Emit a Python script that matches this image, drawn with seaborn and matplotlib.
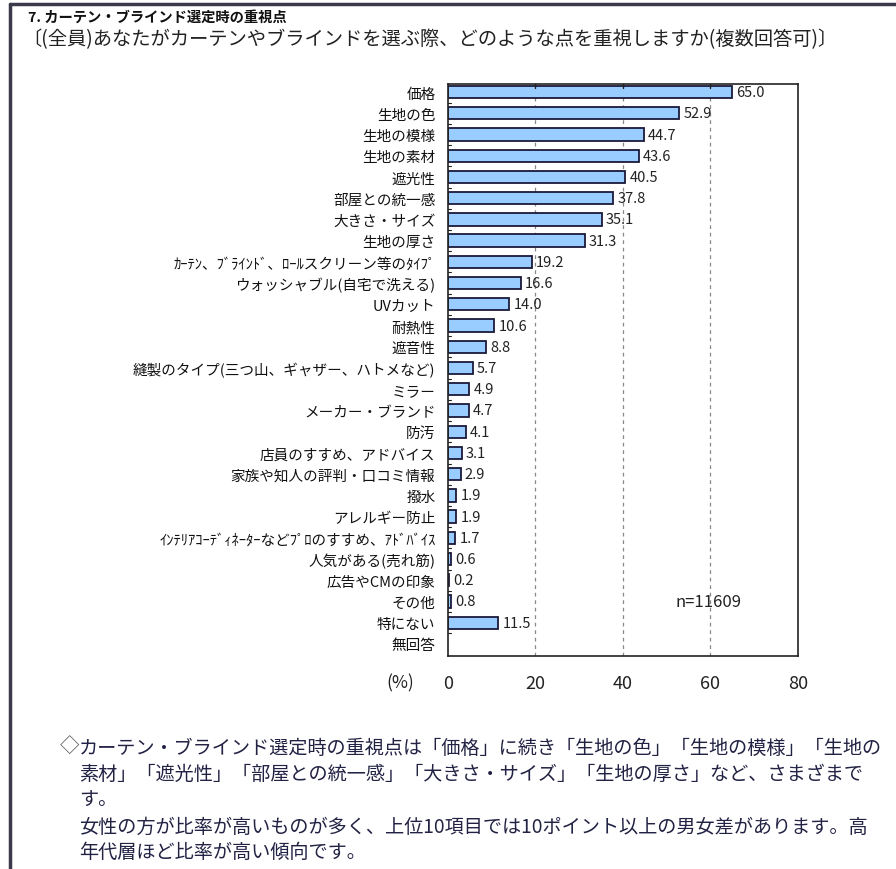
import numpy as np
import pandas as pd
import matplotlib
matplotlib.use("Agg")
import matplotlib.pyplot as plt
import seaborn as sns
from matplotlib.lines import Line2D

categories = [
    "価格", "生地の色", "生地の模様", "生地の素材", "遮光性", "部屋との統一感",
    "大きさ・サイズ", "生地の厚さ", "ｶｰﾃﾝ、ﾌﾞﾗｲﾝﾄﾞ、ﾛｰﾙスクリーン等のﾀｲﾌﾟ",
    "ウォッシャブル(自宅で洗える)", "UVカット", "耐熱性", "遮音性",
    "縫製のタイプ(三つ山、ギャザー、ハトメなど)", "ミラー", "メーカー・ブランド",
    "防汚", "店員のすすめ、アドバイス", "家族や知人の評判・口コミ情報", "撥水",
    "アレルギー防止", "ｲﾝﾃﾘｱｺｰﾃﾞｨﾈｰﾀｰなどﾌﾟﾛのすすめ、ｱﾄﾞﾊﾞｲｽ",
    "人気がある(売れ筋)", "広告やCMの印象", "その他", "特にない", "無回答",
]
values = [65.0, 52.9, 44.7, 43.6, 40.5, 37.8, 35.1, 31.3, 19.2, 16.6, 14.0,
          10.6, 8.8, 5.7, 4.9, 4.7, 4.1, 3.1, 2.9, 1.9, 1.9, 1.7, 0.6, 0.2,
          0.8, 11.5, np.nan]
x_ticks = [0, 20, 40, 60, 80]

title = "7. カーテン・ブラインド選定時の重視点"
subtitle = "〔(全員)あなたがカーテンやブラインドを選ぶ際、どのような点を重視しますか(複数回答可)〕"
note_n = "n=11609"
footer_lines = [
    "カーテン・ブラインド選定時の重視点は「価格」に続き「生地の色」「生地の模様」「生地の",
    "素材」「遮光性」「部屋との統一感」「大きさ・サイズ」「生地の厚さ」など、さまざまで",
    "す。",
    "女性の方が比率が高いものが多く、上位10項目では10ポイント以上の男女差があります。高",
    "年代層ほど比率が高い傾向です。",
]

sns.set_theme(style="white")
plt.rcParams["font.family"] = ["Noto Sans CJK JP", "DejaVu Sans"]

df = pd.DataFrame({"cat": categories, "val": values})

fig = plt.figure(figsize=(8.96, 8.70), dpi=100)
fig.patch.set_facecolor("white")
ax = fig.add_axes([0.5, 0.2448, 0.3906, 0.6575])

sns.barplot(data=df, x="val", y="cat", orient="h", ax=ax, color="#99CCFF",
            saturation=1, width=0.58, edgecolor="#1a1a3a", linewidth=1.3)

for i, v in enumerate(values):
    if np.isnan(v):
        continue
    ax.annotate(f"{v:.1f}", xy=(v, i), xytext=(3, 0), textcoords="offset points",
                fontsize=10.5, color="#222222", ha="left", va="center")

ax.set_xlim(0, 80)
ax.set_ylim(26.57, -0.38)
ax.set_xticks(x_ticks)
ax.set_xticklabels([str(t) for t in x_ticks], fontsize=13, color="#222222")
ax.tick_params(axis="x", length=0, pad=13)
ax.tick_params(axis="y", length=0, pad=9, labelsize=10.5, labelcolor="#111111")
ax.set_xlabel("")
ax.set_ylabel("")

for gx in [20, 40, 60]:
    ax.axvline(gx, color="#888888", linestyle=(0, (3, 3)), linewidth=0.9, zorder=0)
    ax.plot([gx, gx], [-0.38, -0.2], color="#222222", linewidth=1.0, clip_on=False)

for yb in np.arange(0.5, 26.5, 1.0):
    ax.plot([0, 0.7], [yb, yb], color="#222222", linewidth=0.8)

for s in ax.spines.values():
    s.set_visible(True)
    s.set_color("#222222")
    s.set_linewidth(1.2)

ax.text(59.5, 24.0, note_n, fontsize=12, color="#222222", ha="center", va="center")

fig.text(386 / 896, 1 - 683 / 870, "(%)", fontsize=12.5, color="#222222",
         ha="left", va="center")

fig.text(28 / 896, 1 - 18 / 870, title, fontsize=10.3, fontweight="bold",
         color="#111111", ha="left", va="center")
fig.text(22 / 896, 1 - 40 / 870, subtitle, fontsize=13.9, color="#222222",
         ha="left", va="center")

fig.text(60 / 896, 1 - 746 / 870, "◇", fontsize=14, color="#555555",
         ha="left", va="center")
ys = [748, 774, 800, 827, 852]
for line, yy in zip(footer_lines, ys):
    fig.text(79 / 896, 1 - yy / 870, line, fontsize=13.8, color="#222244",
             ha="left", va="center")

fig.add_artist(Line2D([10 / 896, 1.0], [1 - 5 / 870, 1 - 5 / 870],
                      color="#3a3a4a", linewidth=2.5))
fig.add_artist(Line2D([10 / 896, 10 / 896], [1 - 5 / 870, 0.0],
                      color="#3a3a4a", linewidth=2.5))

fig.savefig("out.png", dpi=100, facecolor="white")
